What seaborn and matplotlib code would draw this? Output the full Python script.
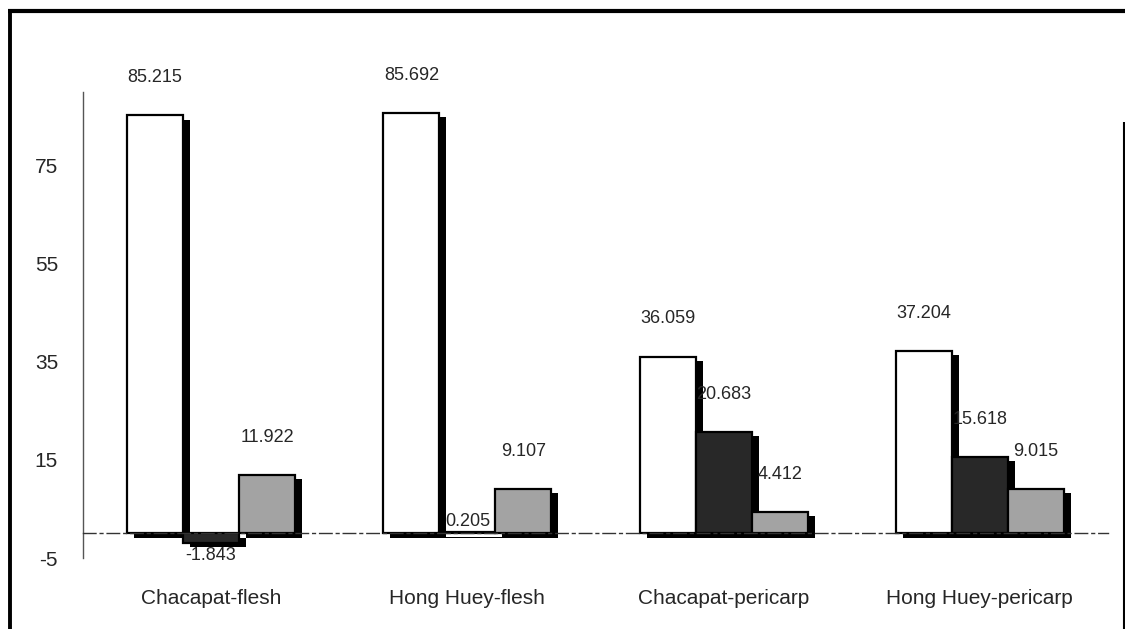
import matplotlib
matplotlib.use("Agg")
import matplotlib.pyplot as plt
import matplotlib.patheffects as pe
from matplotlib.lines import Line2D
from matplotlib.ticker import FixedLocator
import pandas as pd
import seaborn as sns

# Samples and the three measured series
categories = ["Chacapat-flesh", "Hong Huey-flesh", "Chacapat-pericarp", "Hong Huey-pericarp"]
series_names = ["S1", "S2", "S3"]
series_1 = [85.215, 85.692, 36.059, 37.204]
series_2 = [-1.843, 0.205, 20.683, 15.618]
series_3 = [11.922, 9.107, 4.412, 9.015]
y_ticks = [-5, 15, 35, 55, 75]

df = pd.DataFrame({
    "sample": categories * 3,
    "series": [series_names[0]] * 4 + [series_names[1]] * 4 + [series_names[2]] * 4,
    "value": series_1 + series_2 + series_3,
})

sns.set_style("white")
plt.rcParams["font.family"] = ["Liberation Sans", "DejaVu Sans"]
plt.rcParams["axes.unicode_minus"] = False

fig = plt.figure(figsize=(11.25, 6.29), dpi=100)
W, H = 1125, 629
ax = fig.add_axes([83 / W, 1 - 558 / H, (1108 - 83) / W, (558 - 92) / H])

sns.barplot(
    data=df, x="sample", y="value", hue="series", order=categories,
    hue_order=series_names, palette=["#ffffff", "#282828", "#a3a3a3"],
    saturation=1, width=0.656, gap=0, edgecolor="black", linewidth=1.6,
    legend=False, ax=ax, errorbar=None,
)

# drop shadow behind every bar
shadow = [pe.SimplePatchShadow(offset=(5, -3), shadow_rgbFace="black", alpha=1.0), pe.Normal()]
for container in ax.containers:
    for bar in container:
        bar.set_path_effects(shadow)

# value labels
for container in ax.containers:
    for bar in container:
        v = bar.get_height()
        x = bar.get_x() + bar.get_width() / 2
        if v < 0:
            ax.annotate(f"{v:.3f}", (x, v), xytext=(0, -3), textcoords="offset points",
                        ha="center", va="top", fontsize=13)
        elif v < 1:
            ax.annotate(f"{v:.3f}", (x, v), xytext=(0, 1.5), textcoords="offset points",
                        ha="center", va="bottom", fontsize=13)
        else:
            ax.annotate(f"{v:.3f}", (x, v), xytext=(0, 21), textcoords="offset points",
                        ha="center", va="bottom", fontsize=13)

ax.set_ylim(-5, 90)
ax.set_xlim(-0.5, 3.5)
ax.set_yticks(y_ticks)
ax.set_xlabel("")
ax.set_ylabel("")

for side in ("top", "right"):
    ax.spines[side].set_visible(False)
ax.spines["left"].set_color("#555555")
ax.spines["left"].set_linewidth(1.0)
ax.spines["bottom"].set_position(("data", 0))
ax.spines["bottom"].set_linestyle((0, (9, 3, 2, 3)))
ax.spines["bottom"].set_linewidth(1.0)
ax.spines["bottom"].set_color("#333333")

ax.tick_params(axis="y", length=6, width=1, color="#444444", pad=12, labelsize=15)
ax.tick_params(axis="x", which="major", length=0, pad=40, labelsize=15)
ax.xaxis.set_minor_locator(FixedLocator([0.5, 1.5, 2.5, 3.5]))
ax.tick_params(axis="x", which="minor", length=8, width=1, color="#333333", direction="out")

# page frame
frame = dict(transform=fig.transFigure, color="black", solid_capstyle="butt")
fig.add_artist(Line2D([8 / W, 1], [1 - 10.5 / H] * 2, lw=3, **frame))
fig.add_artist(Line2D([9.5 / W] * 2, [0, 1 - 9 / H], lw=2.8, **frame))
fig.add_artist(Line2D([1123.5 / W] * 2, [0, 1 - 122 / H], lw=1.5, **frame))

fig.savefig("out.png", dpi=100)
